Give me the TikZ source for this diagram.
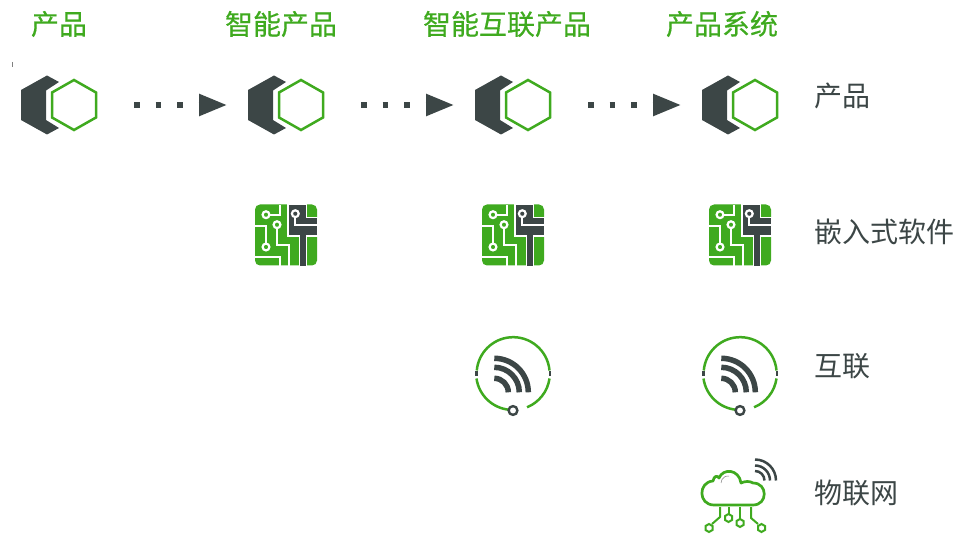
\documentclass[tikz,border=0pt]{standalone}
\usepackage{fontspec}
\setmainfont{Noto Sans CJK SC}
\newfontfamily\headfont[FakeBold=0.5]{Noto Sans CJK SC}
\usetikzlibrary{arrows.meta}
\definecolor{leaf}{HTML}{3FAA1F}
\definecolor{slate}{HTML}{3C4646}
\tikzset{
	head/.style = {text = leaf, font = \headfont\fontsize{28}{28}\selectfont, anchor = center, inner sep = 0},
	side/.style = {text = slate, font = \fontsize{28}{28}\selectfont, anchor = west, inner sep = 0},
	dotlink/.style = {slate, line width = 5.5pt, dash pattern = on 5.5pt off 16pt, -{Triangle[length = 28pt, width = 21pt]}},
	hexpair/.pic = {
		\coordinate (-out) at (60,0);
		\coordinate (-in) at (-74,0);
		\fill [slate] (-53,-15) -- (-27,-29.5) -- (-15,-23) -- (-28,-14.5) -- (-28,15) -- (-15,23) -- (-27,29.5) -- (-53,15) -- cycle;
		\draw [leaf, line width = 2.5pt] (0,-25) -- (22,-12.5) -- (22,12.5) -- (0,25) -- (-22,12.5) -- (-22,-12.5) -- cycle;
	},
	chip/.pic = {
		\fill [leaf, rounded corners = 5pt] (15,9.5) rectangle (77,70.5);
		\begin{scope}[white, line width = 1.8pt]
			\filldraw [fill = slate] (48,9) -- (66.5,9) -- (66.5,22.5) -- (78,22.5) -- (78,41) -- (66.5,41) -- (66.5,71.5) -- (59.5,71.5) -- (59.5,41) -- (48,41) -- cycle;
			\draw (26,19.7) -- (40.3,19.7) -- (40.3,10);
			\draw (37,29.7) -- (37,50.3) -- (48.7,50.3) -- (48.7,71);
			\draw (26,52) -- (26,31) -- (15,31);
			\draw (15,62) -- (40.3,62) -- (40.3,71);
			\draw (55.3,18.7) -- (55.3,30.3) -- (77,30.3);
			\draw [fill = leaf, line width = 2.2pt] (26,19.7) circle (3.4);
			\draw [fill = leaf, line width = 2.2pt] (37,29.7) circle (3.4);
			\draw [fill = leaf, line width = 2.2pt] (26,52) circle (3.4);
			\draw [fill = slate, line width = 2.2pt] (55.3,18.7) circle (3.4);
		\end{scope}
	},
	wifiring/.pic = {
		\draw [leaf, line width = 2.5pt] (36.5,-3) arc (-5:-175:36.5);
		\draw [leaf, line width = 2.5pt] (-36.5,5) arc (172:95:36.5);
		\draw [leaf, line width = 2.5pt] (36.5,5) arc (8:68:36.5);
		\fill [slate] (-38,-2.5) rectangle (-35.5,2.5);
		\fill [slate] (35.5,-2.5) rectangle (38,2.5);
		\draw [slate, line width = 2.4pt, fill = white] (0,37) circle (4.4);
		\foreach \r in {14,25,34}
			\draw [slate, line width = 5.5pt] (-18.7,{18.8-\r}) arc (-90:0:\r);
	},
	cloudnet/.pic = {
		\draw [leaf, line width = 2.7pt, line join = round] (19,55) .. controls (3,55) and (3,32) .. (18,31)
			.. controls (19,26) and (22,25) .. (24,28)
			.. controls (28,18) and (44,19) .. (46,33)
			.. controls (50,31) and (55,31) .. (58,33)
			.. controls (73,33) and (73,55) .. (58,55) -- cycle;
		\draw [gray, line width = .5pt] (26,33) arc (180:280:7);
		\foreach \r in {9.5,15,21}
			\draw [slate, line width = 2.5pt] (60,{30.5-\r}) arc (-90:0:\r);
		\begin{scope}[leaf, line width = 2pt]
			\draw (25,57) -- (25,67) -- (17,74);
			\draw (33.5,57) -- (33.5,64);
			\draw (45,57) -- (45,69);
			\draw (56,57) -- (56,68) -- (63,74);
			\foreach \x/\y in {14/78,33.5/68,45/73,66.5/78}
				\draw (\x,\y-4) -- ++(3.5,2) -- ++(0,4) -- ++(-3.5,2) -- ++(-3.5,-2) -- ++(0,-4) -- cycle;
		\end{scope}
	}
}
\begin{document}
\begin{tikzpicture}[x = 1pt, y = -1pt]
	\useasboundingbox (0,0) rectangle (967,534);
	
	\node [head] (head a) at (59,24) {产品};
	\node [head] (head b) at (281,24) {智能产品};
	\node [head] (head c) at (507,24) {智能互联产品};
	\node [head] (head d) at (722,24) {产品系统};
	
	\draw [gray, line width = .8pt] (12,62) -- (12,67);
	
	\pic (prod a) at (74,105) {hexpair};
	\pic (prod b) at (301,105) {hexpair};
	\pic (prod c) at (528,105) {hexpair};
	\pic (prod d) at (755,105) {hexpair};
	
	\draw [dotlink] (prod a-out) -- (prod b-in);
	\draw [dotlink] (prod b-out) -- (prod c-in);
	\draw [dotlink] (prod c-out) -- (prod d-in);
	
	\pic at (240,195) {chip};
	\pic at (467,195) {chip};
	\pic at (694,195) {chip};
	
	\pic at (513,373.5) {wifiring};
	\pic at (740,373.5) {wifiring};
	
	\pic at (695,450) {cloudnet};
	
	\node [side] (side a) at (814,96) {产品};
	\node [side] (side b) at (814,232) {嵌入式软件};
	\node [side] (side c) at (814,366) {互联};
	\node [side] (side d) at (814,493) {物联网};
\end{tikzpicture}
\end{document}
